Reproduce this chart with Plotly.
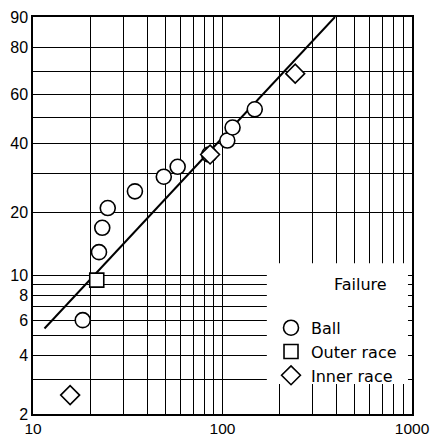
import numpy as np
import plotly.graph_objects as go

# ---- data (life, percent failed) ----
ball_life = [18.3, 22.3, 23.2, 24.8, 34.5, 49, 58, 85, 106, 113, 148]
ball_pct = [6, 13, 17, 21, 25, 29, 32, 36, 41, 46, 53.5]
outer_life = [21.7]
outer_pct = [9.5]
inner_life = [15.7, 86, 242]
inner_pct = [2.5, 36, 69]
fit_life = [11.5, 392]
fit_pct = [5.45, 90]

y_grid_pct = [2, 3, 4, 5, 6, 7, 8, 9, 10, 20, 30, 40, 50, 60, 70, 80, 90]
y_label_pct = [2, 4, 6, 8, 10, 20, 40, 60, 80, 90]
x_grid = [10, 20, 30, 40, 50, 60, 70, 80, 90, 100,
          200, 300, 400, 500, 600, 700, 800, 900, 1000]
x_label = [10, 100, 1000]


def weib(p):
    p = np.asarray(p, dtype=float) / 100.0
    return np.log(-np.log(1.0 - p))


TICKFONT = "Liberation Sans, Arial, Helvetica, sans-serif"
LEGFONT = "DejaVu Sans, Verdana, sans-serif"

fig = go.Figure()

fig.add_trace(go.Scatter(
    x=fit_life, y=weib(fit_pct), mode="lines",
    line=dict(color="black", width=2), showlegend=False, hoverinfo="skip"))

fig.add_trace(go.Scatter(
    x=ball_life, y=weib(ball_pct), mode="markers", name="Ball",
    marker=dict(symbol="circle", size=15, color="white",
                line=dict(color="black", width=1.6))))
fig.add_trace(go.Scatter(
    x=outer_life, y=weib(outer_pct), mode="markers", name="Outer race",
    marker=dict(symbol="square", size=14, color="white",
                line=dict(color="black", width=1.6))))
fig.add_trace(go.Scatter(
    x=inner_life, y=weib(inner_pct), mode="markers", name="Inner race",
    marker=dict(symbol="diamond", size=14.5, color="white",
                line=dict(color="black", width=1.6))))

fig.update_xaxes(
    type="log", range=[1, 3], automargin=False,
    tickvals=x_grid,
    ticktext=[str(v) if v in x_label else "" for v in x_grid],
    showgrid=True, gridcolor="black", gridwidth=1,
    showline=True, linecolor="black", linewidth=1.5, mirror=True,
    ticks="", tickfont=dict(family=TICKFONT, size=15.5, color="black"),
    zeroline=False,
)
fig.update_yaxes(
    range=[float(weib(2)), float(weib(90))], automargin=False,
    tickvals=list(weib(y_grid_pct)),
    ticktext=[str(v) if v in y_label_pct else "" for v in y_grid_pct],
    showgrid=True, gridcolor="black", gridwidth=1,
    showline=True, linecolor="black", linewidth=1.5, mirror=True,
    ticks="", tickfont=dict(family=TICKFONT, size=16, color="black"),
    zeroline=False,
)

# white patch hiding the grid behind the legend (grid stubs remain at right edge)
fig.add_shape(type="rect", xref="paper", yref="paper",
              x0=0.617, x1=0.9894, y0=0.0756, y1=0.380,
              fillcolor="white", line=dict(width=0), layer="above")

fig.add_annotation(text="Failure", xref="paper", yref="paper",
                   x=0.865, y=0.327, xanchor="center", yanchor="middle",
                   showarrow=False,
                   font=dict(family=LEGFONT, size=16, color="black"))

fig.update_layout(
    width=430, height=445,
    margin=dict(l=33, r=18, t=17, b=31),
    paper_bgcolor="white", plot_bgcolor="white",
    showlegend=True,
    legend=dict(x=0.628, y=0.260, xanchor="left", yanchor="top",
                bgcolor="rgba(0,0,0,0)", borderwidth=0,
                font=dict(family=LEGFONT, size=16, color="black"),
                tracegroupgap=0, itemsizing="trace"),
)

fig.write_html("out.html", config={"displayModeBar": False},
               post_script="document.body.style.margin='0px';")
